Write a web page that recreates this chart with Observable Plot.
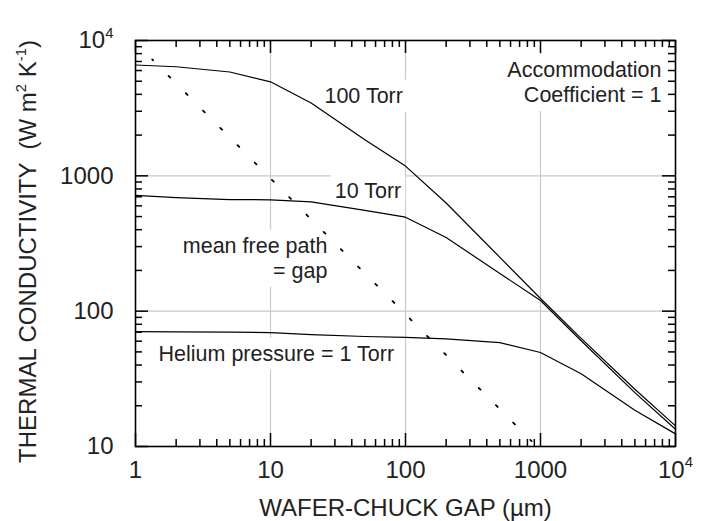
<!DOCTYPE html>
<html><head><meta charset="utf-8">
<script src="https://cdn.jsdelivr.net/npm/d3@7"></script>
<script src="https://cdn.jsdelivr.net/npm/@observablehq/plot@0.6"></script>
<style>
body{margin:0;background:#fff;}
#chart{width:712px;height:521px;background:#fff;}
</style></head><body><div id="chart"></div>
<script>
// ---- data ----
const gaps    = [1, 2, 5, 10, 20, 50, 100, 200, 500, 1000, 2000, 5000, 10000];
const torr100 = [6590, 6400, 5850, 4950, 3450, 1850, 1180, 630, 250, 124, 63, 26.5, 14.2];
const torr10  = [717, 690, 668, 665, 642, 555, 495, 350, 190, 120, 60.5, 25, 13.4];
const torr1   = [70.5, 70.3, 70, 69.5, 67, 65, 64, 62.5, 58.5, 49.5, 34.5, 18.5, 12.4];
const mfpGap  = [1.33, 860];
const mfpK    = [7250, 10.95];

const xMajor = [1, 10, 100, 1000, 10000];
const xTickLabels = ["1", "10", "100", "1000", "10^4"];
const yMajor = [10, 100, 1000, 10000];
const yTickLabels = ["10", "100", "1000", "10^4"];
const gridX = [10, 100, 1000];
const gridY = [100, 1000];
const xTitle = "WAFER-CHUCK GAP (µm)";
const yTitle = "THERMAL CONDUCTIVITY  (W m^2 K^-1)";

const centerLabels = [
  {text: "100 Torr", x: 49, y: 3900},
  {text: "10 Torr", x: 52.7, y: 774},
  {text: "Helium pressure = 1 Torr", x: 11.04, y: 48.3}
];
const endLabels = [
  {text: "mean free path\n= gap", x: 26.4, y: 250},
  {text: "Accommodation\nCoefficient = 1", x: 7880, y: 4966}
];

// ---- build tables ----
const curves = [
  {name: "100 Torr", vals: torr100},
  {name: "10 Torr", vals: torr10},
  {name: "1 Torr", vals: torr1}
].flatMap(c => gaps.map((g, i) => ({series: c.name, gap: g, k: c.vals[i]})));
const mfp = mfpGap.map((g, i) => ({gap: g, k: mfpK[i]}));

const minorOf = (majors) => majors.slice(0, -1).flatMap(m => [2,3,4,5,6,7,8,9].map(j => m * j));
const xMinor = minorOf(xMajor);
const yMinor = minorOf(yMajor);

const TEXT = "#222";
const FS = 21.5;

const W = 712, H = 521, ML = 135, MR = 37, MT = 40, MB = 75;
const PW = W - ML - MR, PH = H - MT - MB;

// inward tick marks: frame-spanning rules trimmed by insets
const tx = (data, side, len) => Plot.ruleX(data, {x: d => d, stroke: "black", strokeWidth: 1.5,
  insetTop: side === "bottom" ? PH - len : 0, insetBottom: side === "top" ? PH - len : 0});
const ty = (data, side, len) => Plot.ruleY(data, {y: d => d, stroke: "black", strokeWidth: 1.5,
  insetRight: side === "left" ? PW - len : 0, insetLeft: side === "right" ? PW - len : 0});

const chart = Plot.plot({
  width: W,
  height: H,
  marginLeft: ML,
  marginRight: MR,
  marginTop: MT,
  marginBottom: MB,
  style: {fontFamily: '"Liberation Sans", Arial, Helvetica, sans-serif', fontSize: "24px"},
  x: {type: "log", domain: [1, 10000], label: null},
  y: {type: "log", domain: [10, 10000], label: null},
  marks: [
    Plot.ruleX(gridX, {stroke: "#c9c9c9", strokeWidth: 1.2}),
    Plot.ruleY(gridY, {stroke: "#c9c9c9", strokeWidth: 1.2}),
    Plot.text(centerLabels, {x: "x", y: "y", text: "text", fontSize: FS, fill: TEXT, textAnchor: "middle", ariaDescription: "boxed"}),
    Plot.text(endLabels, {x: "x", y: "y", text: "text", fontSize: FS, fill: TEXT, textAnchor: "end", lineHeight: 1.16, ariaDescription: "boxed"}),
    Plot.line(curves, {x: "gap", y: "k", z: "series", stroke: "black", strokeWidth: 1.2}),
    Plot.line(mfp, {x: "gap", y: "k", stroke: "black", strokeWidth: 1.8, strokeDasharray: "2.5,21.94", strokeDashoffset: 1.25}),
    // tick labels
    Plot.axisX(xMajor, {anchor: "bottom", tickSize: 0, tickPadding: 14, tickFormat: d => xTickLabels[xMajor.indexOf(d)], fill: TEXT, label: null}),
    Plot.axisY(yMajor, {anchor: "left", tickSize: 0, tickPadding: 22, tickFormat: d => yTickLabels[yMajor.indexOf(d)], fill: TEXT, label: null}),
    // axis titles
    Plot.text([xTitle], {text: d => d, frameAnchor: "bottom", textAnchor: "middle", dy: 69, fill: TEXT}),
    Plot.text([yTitle], {text: d => d, frameAnchor: "left", textAnchor: "middle", lineAnchor: "middle", rotate: -90, dx: -107, dy: 8, fill: TEXT}),
    // inward ticks on all four sides
    tx(xMajor, "bottom", 13), tx(xMinor, "bottom", 7),
    tx(xMajor, "top", 13), tx(xMinor, "top", 7),
    ty(yMajor, "left", 13), ty(yMinor, "left", 7),
    ty(yMajor, "right", 13), ty(yMinor, "right", 7),
    Plot.frame({stroke: "black", strokeWidth: 1.6})
  ]
});

document.getElementById("chart").appendChild(chart);

// superscripts: "a^b" -> a with raised b
d3.select(chart).selectAll("text").each(function () {
  if (this.children.length) return;
  const s = this.textContent;
  if (!s.includes("^")) return;
  const fs = parseFloat(getComputedStyle(this).fontSize) || 24;
  const shift = fs * 0.42, small = fs * 0.62;
  this.textContent = "";
  const parts = s.split(/\^([^\s)]+)/);
  let raised = false;
  parts.forEach((p, idx) => {
    if (p === "") { return; }
    const t = document.createElementNS("http://www.w3.org/2000/svg", "tspan");
    t.textContent = p;
    if (idx % 2 === 1) {
      t.setAttribute("font-size", small);
      t.setAttribute("dy", -shift);
      raised = true;
    } else if (raised) {
      t.setAttribute("dy", shift);
      raised = false;
    }
    this.appendChild(t);
  });
});

// white boxes behind annotations
d3.select(chart).selectAll('g[aria-description="boxed"] text').each(function () {
  const node = this;
  const b = node.getBBox();
  const pad = 4;
  d3.select(node.parentNode).insert("rect", () => node)
    .attr("x", b.x - pad).attr("y", b.y - pad)
    .attr("width", b.width + 2 * pad).attr("height", b.height + 2 * pad)
    .attr("fill", "white")
    .attr("transform", node.getAttribute("transform"));
});
</script>
</body></html>
